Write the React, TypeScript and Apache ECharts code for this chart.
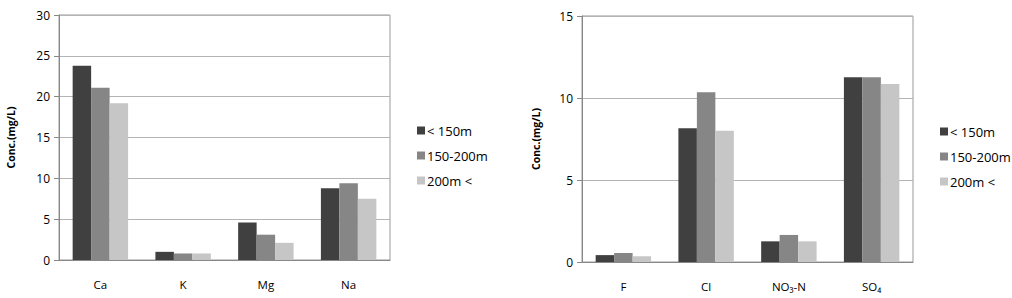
import React, { useEffect, useRef } from "react";
import * as echarts from "echarts";

const cationCats = ["Ca", "K", "Mg", "Na"];
const anionCats = ["F", "Cl", "NO₃-N", "SO₄"];
const seriesNames = ["< 150m", "150-200m", "200m <"];
const cationLt150 = [23.8, 1.0, 4.6, 8.8];
const cation150to200 = [21.1, 0.8, 3.1, 9.4];
const cationGt200 = [19.2, 0.8, 2.1, 7.5];
const anionLt150 = [0.42, 8.15, 1.26, 11.26];
const anion150to200 = [0.55, 10.35, 1.65, 11.26];
const anionGt200 = [0.35, 8.0, 1.26, 10.85];
const colors = ["#404040", "#868686", "#c6c6c6"];

const FONT = "'Open Sans', 'Liberation Sans', sans-serif";

export default function App() {
  const ref = useRef<HTMLDivElement>(null);
  useEffect(() => {
    if (!ref.current) return;
    const chart = echarts.init(ref.current, undefined, { renderer: "svg" });
    const yAxisCommon = (max: number, interval: number) => ({
      type: "value" as const,
      min: 0,
      max,
      interval,
      name: "Conc.(mg/L)",
      nameLocation: "middle" as const,
      nameRotate: 90,
      nameTextStyle: { fontFamily: FONT, fontSize: 10.5, fontWeight: "bold", color: "#000" },
      axisLine: { show: true, lineStyle: { color: "#888" } },
      axisTick: { show: true, length: 5, lineStyle: { color: "#888" } },
      axisLabel: { fontFamily: FONT, fontSize: 12, color: "#000", margin: 9 },
      splitLine: { show: true, lineStyle: { color: "#b4b4b4" } },
    });
    const xAxisCommon = (data: string[]) => ({
      type: "category" as const,
      data,
      axisLine: { show: true, lineStyle: { color: "#888" } },
      axisTick: { show: false },
      axisLabel: { fontFamily: FONT, fontSize: 11.5, color: "#000", margin: 18 },
    });
    const mk = (name: string, data: number[], idx: number, color: string) => ({
      name,
      type: "bar" as const,
      data,
      xAxisIndex: idx,
      yAxisIndex: idx,
      barGap: "0%",
      barCategoryGap: "33%",
      itemStyle: { color },
    });
    const legendCommon = {
      orient: "vertical" as const,
      itemWidth: 8,
      itemHeight: 8,
      itemGap: 12,
      icon: "rect",
      data: seriesNames,
      textStyle: { fontFamily: FONT, fontSize: 13, color: "#000", padding: [0, 0, 0, -3] },
    };
    chart.setOption({
      animation: false,
      backgroundColor: "#fff",
      grid: [
        { left: 59, top: 15, width: 331, height: 245, show: true, borderColor: "#999", borderWidth: 1 },
        { left: 582, top: 16, width: 331, height: 246, show: true, borderColor: "#999", borderWidth: 1 },
      ],
      legend: [
        { ...legendCommon, left: 412, top: 119 },
        { ...legendCommon, left: 935, top: 120 },
      ],
      xAxis: [xAxisCommon(cationCats), { ...xAxisCommon(anionCats), gridIndex: 1 }],
      yAxis: [
        { ...yAxisCommon(30, 5), nameGap: 43 },
        { ...yAxisCommon(15, 5), gridIndex: 1, nameGap: 41 },
      ],
      series: [
        mk(seriesNames[0], cationLt150, 0, colors[0]),
        mk(seriesNames[1], cation150to200, 0, colors[1]),
        mk(seriesNames[2], cationGt200, 0, colors[2]),
        mk(seriesNames[0], anionLt150, 1, colors[0]),
        mk(seriesNames[1], anion150to200, 1, colors[1]),
        mk(seriesNames[2], anionGt200, 1, colors[2]),
      ],
    });
    return () => chart.dispose();
  }, []);
  return (
    <div
      ref={ref}
      style={{ position: "absolute", left: 0, top: 0, width: 1012, height: 298 }}
    />
  );
}
